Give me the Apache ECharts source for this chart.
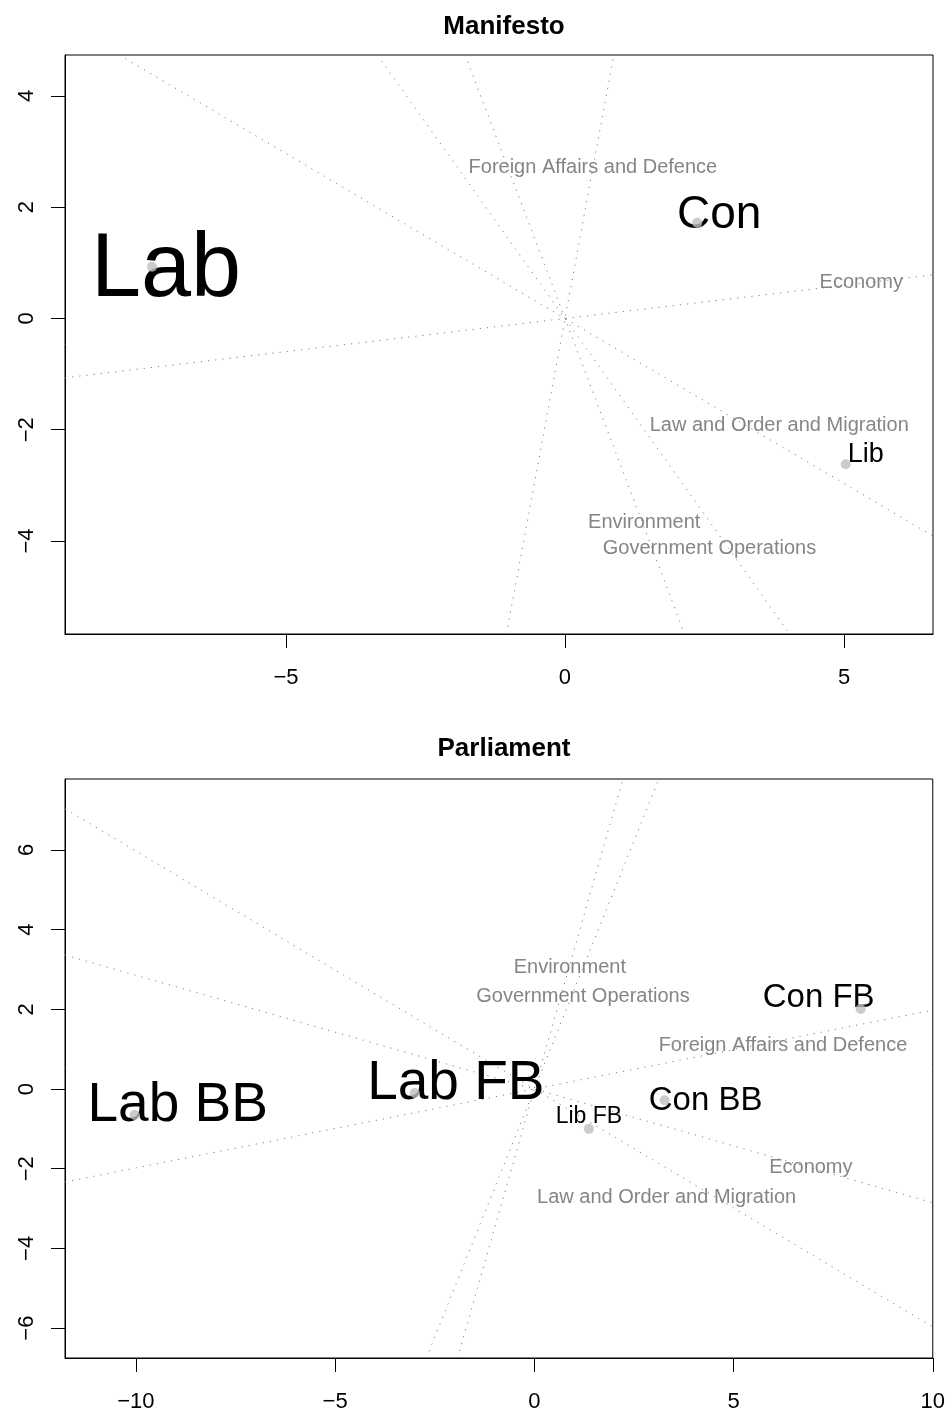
<!DOCTYPE html>
<html>
<head>
<meta charset="utf-8">
<script src="https://cdn.jsdelivr.net/npm/echarts@6/dist/echarts.min.js"></script>
<style>
  html, body { margin: 0; padding: 0; background: #fff; }
  #chart { width: 948px; height: 1415px; }
</style>
</head>
<body>
<div id="chart"></div>
<script>
// ---- Data -----------------------------------------------------------------
const topics = ['Economy', 'Law and Order and Migration', 'Government Operations', 'Environment', 'Foreign Affairs and Defence'];

// Manifesto panel
const manifestoParties = ['Lab', 'Con', 'Lib'];
const manifestoX = [-7.40, 2.37, 5.03];
const manifestoY = [0.93, 1.72, -2.62];
const manifestoTopicSlopes = [0.119, -0.593, -1.409, -2.648, 5.41];
const manifestoTopicX = [5.31, 3.84, 2.59, 1.42, 0.50];
const manifestoTopicY = [0.64, -1.92, -4.13, -3.66, 2.72];
const manifestoXTicks = [-5, 0, 5];
const manifestoYTicks = [-4, -2, 0, 2, 4];

// Parliament panel
const parliamentParties = ['Lab BB', 'Lab FB', 'Lib FB', 'Con BB', 'Con FB'];
const parliamentX = [-10.03, -3.00, 1.37, 3.27, 8.19];
const parliamentY = [-0.65, -0.10, -1.00, -0.28, 2.01];
const parliamentTopicSlopes = [-0.2854, -0.597, 2.49, 3.50, 0.198];
const parliamentTopicX = [6.94, 3.32, 1.22, 0.89, 6.24];
const parliamentTopicY = [-1.98, -2.71, 2.33, 3.04, 1.10];
const parliamentXTicks = [-10, -5, 0, 5, 10];
const parliamentYTicks = [-6, -4, -2, 0, 2, 4, 6];

// ---- Layout and styling ---------------------------------------------------
const FONT = '"Liberation Sans", Arial, Helvetica, sans-serif';
const panels = [
  {
    title: 'Manifesto', titleTop: 9,
    grid: { left: 65, top: 55, width: 868, height: 579 },
    xRange: [-8.96, 6.595], yRange: [-5.672, 4.737],
    xTicks: manifestoXTicks, yTicks: manifestoYTicks,
    parties: manifestoParties, px: manifestoX, py: manifestoY,
    slopes: manifestoTopicSlopes, tx: manifestoTopicX, ty: manifestoTopicY,
    // label font size and pixel offset of each party label
    labelStyle: [
      { size: 90, offset: [14, 4] },
      { size: 46, offset: [22, -8] },
      { size: 27, offset: [20, -10] }
    ]
  },
  {
    title: 'Parliament', titleTop: 731,
    grid: { left: 65, top: 779, width: 868, height: 579 },
    xRange: [-11.78, 10.0], yRange: [-6.75, 7.78],
    xTicks: parliamentXTicks, yTicks: parliamentYTicks,
    parties: parliamentParties, px: parliamentX, py: parliamentY,
    slopes: parliamentTopicSlopes, tx: parliamentTopicX, ty: parliamentTopicY,
    labelStyle: [
      { size: 55, offset: [43, -9] },
      { size: 55, offset: [41, -9] },
      { size: 23, offset: [0, -12] },
      { size: 33, offset: [41, 1] },
      { size: 33, offset: [-42, -11] }
    ]
  }
];

const fmt = v => (v < 0 ? '\u2212' + Math.abs(v) : String(v));

// endpoints of the line y = s*x clipped to the panel box
function clipThroughOrigin(s, xr, yr) {
  let x0 = xr[0], x1 = xr[1];
  if (s !== 0) {
    const a = yr[0] / s, b = yr[1] / s;
    const lo = Math.min(a, b), hi = Math.max(a, b);
    x0 = Math.max(x0, lo); x1 = Math.min(x1, hi);
  }
  return [[x0, s * x0], [x1, s * x1]];
}

const option = {
  animation: false,
  backgroundColor: '#ffffff',
  title: [],
  grid: [],
  xAxis: [],
  yAxis: [],
  series: []
};

panels.forEach((p, i) => {
  option.title.push({
    text: p.title, left: p.grid.left + p.grid.width / 2, top: p.titleTop, textAlign: 'center',
    textStyle: { fontFamily: FONT, fontSize: 26, fontWeight: 'bold', color: '#000' }
  });
  option.grid.push(Object.assign({ show: true, borderColor: '#000', borderWidth: 1, backgroundColor: 'transparent' }, p.grid));
  option.xAxis.push({
    type: 'value', gridIndex: i, min: p.xRange[0], max: p.xRange[1],
    axisLine: { show: true, onZero: false, lineStyle: { color: '#000', width: 1 } },
    axisTick: { show: true, length: 14, customValues: p.xTicks, lineStyle: { color: '#000' } },
    axisLabel: { customValues: p.xTicks, formatter: fmt, margin: 33, fontFamily: FONT, fontSize: 22, color: '#000' },
    splitLine: { show: false }
  });
  option.yAxis.push({
    type: 'value', gridIndex: i, min: p.yRange[0], max: p.yRange[1],
    axisLine: { show: true, onZero: false, lineStyle: { color: '#000', width: 1 } },
    axisTick: { show: true, length: 14, customValues: p.yTicks, lineStyle: { color: '#000' } },
    axisLabel: { customValues: p.yTicks, formatter: fmt, rotate: 90, margin: 27, fontFamily: FONT, fontSize: 22, color: '#000' },
    splitLine: { show: false }
  });

  // dotted topic directions through the origin
  p.slopes.forEach((s, k) => {
    option.series.push({
      type: 'line', name: topics[k], xAxisIndex: i, yAxisIndex: i,
      data: clipThroughOrigin(s, p.xRange, p.yRange),
      symbol: 'none', silent: true, clip: true, z: 1,
      lineStyle: { color: '#808080', width: 1, type: [1.2, 6] }
    });
  });

  // topic labels
  option.series.push({
    type: 'scatter', xAxisIndex: i, yAxisIndex: i, silent: true, z: 2,
    symbolSize: 1, itemStyle: { color: 'rgba(0,0,0,0)' },
    data: topics.map((t, k) => ({ name: t, value: [p.tx[k], p.ty[k]] })),
    label: {
      show: true, position: 'inside', formatter: '{b}',
      fontFamily: FONT, fontSize: 20, color: '#666666', textBorderWidth: 0
    }
  });

  // party labels
  option.series.push({
    type: 'scatter', xAxisIndex: i, yAxisIndex: i, silent: true, z: 3,
    symbolSize: 1, itemStyle: { color: 'rgba(0,0,0,0)' },
    data: p.parties.map((name, k) => ({
      name: name, value: [p.px[k], p.py[k]],
      label: {
        show: true, position: 'inside', formatter: '{b}', fontFamily: FONT,
        color: '#000000', opacity: 1, textBorderWidth: 0,
        fontSize: p.labelStyle[k].size, offset: p.labelStyle[k].offset
      }
    }))
  });

  // party positions
  option.series.push({
    type: 'scatter', xAxisIndex: i, yAxisIndex: i, silent: true, z: 4,
    symbolSize: 10, itemStyle: { color: '#bebebe' },
    data: p.parties.map((name, k) => [p.px[k], p.py[k]])
  });
});

const chart = echarts.init(document.getElementById('chart'), null, { renderer: 'canvas' });
chart.setOption(option);
</script>
</body>
</html>
